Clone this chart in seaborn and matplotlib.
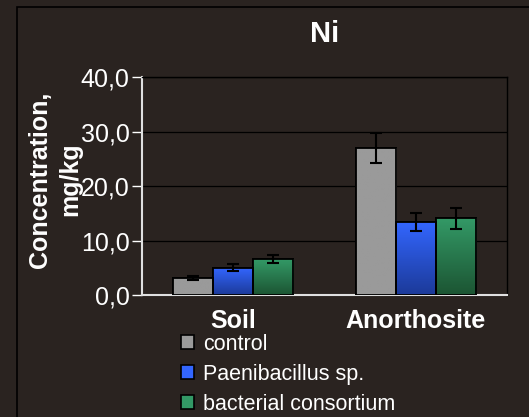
import numpy as np
import pandas as pd
import matplotlib
matplotlib.use('Agg')
import matplotlib.pyplot as plt
import matplotlib.colors as mcolors
from matplotlib.patches import Rectangle, Patch
import seaborn as sns

# data
categories = ['Soil', 'Anorthosite']
treatments = ['control', 'Paenibacillus sp.', 'bacterial consortium']
control = [3.1, 27.0]
paeni = [5.0, 13.4]
consortium = [6.6, 14.1]
control_err = [0.3, 2.7]
paeni_err = [0.6, 1.7]
consortium_err = [0.8, 1.9]
y_ticks = [0, 10, 20, 30, 40]
y_tick_labels = ['0,0', '10,0', '20,0', '30,0', '40,0']

bg = '#2a2320'
top_colors = ['#9a9a9a', '#3366ff', '#339966']
bottom_colors = ['#9a9a9a', '#1c3a99', '#1c5533']

sns.set_style("dark")
plt.rcParams['font.family'] = ['Liberation Sans', 'DejaVu Sans']

df = pd.DataFrame({
    'category': categories * 3,
    'treatment': [t for t in treatments for _ in categories],
    'value': control + paeni + consortium,
    'err': control_err + paeni_err + consortium_err,
})

fig = plt.figure(figsize=(5.29, 4.17), dpi=100, facecolor=bg)
ax = fig.add_axes([142 / 529, 1 - 295 / 417, 365 / 529, 218 / 417])
ax.set_facecolor(bg)

sns.barplot(data=df, x='category', y='value', hue='treatment',
            hue_order=treatments, order=categories,
            palette=top_colors, width=0.66, gap=0, errorbar=None,
            edgecolor='black', linewidth=1.3, saturation=1, ax=ax, zorder=3)

# gradient fill + error bars on each bar
bars = [p for p in ax.patches if p.get_height() > 0]
for i, p in enumerate(bars):
    t = i // len(categories)
    c = i % len(categories)
    x0, w, h = p.get_x(), p.get_width(), p.get_height()
    cmap = mcolors.LinearSegmentedColormap.from_list('g', [bottom_colors[t], top_colors[t]])
    grad = np.linspace(0, 1, 64).reshape(-1, 1)
    im = ax.imshow(grad, extent=(x0, x0 + w, 0, h), origin='lower', aspect='auto',
                   cmap=cmap, zorder=3.5)
    im.set_clip_path(p)
    ax.add_patch(Rectangle((x0, 0), w, h, fill=False, edgecolor='black', lw=1.3, zorder=4))
    errs = [control_err, paeni_err, consortium_err][t]
    ax.errorbar(x0 + w / 2, h, yerr=errs[c], color='black', lw=1.5,
                capsize=4.5, capthick=1.5, zorder=5)

ax.set_xlim(-0.5, 1.5)
ax.set_ylim(0, 40)
ax.set_yticks(y_ticks)
ax.set_yticklabels(y_tick_labels, color='white', fontsize=18)
ax.tick_params(axis='y', length=7, width=1, color='white', pad=2, left=True)
ax.tick_params(axis='x', length=0, pad=10)
for lbl in ax.get_xticklabels():
    lbl.set_color('white')
    lbl.set_fontsize(18)
    lbl.set_fontweight('bold')
ax.grid(axis='y', color='black', lw=0.9, zorder=1)
ax.grid(axis='x', visible=False)

for side in ['top', 'right']:
    ax.spines[side].set_visible(True)
    ax.spines[side].set_color('black')
    ax.spines[side].set_linewidth(1)
for side in ['left', 'bottom']:
    ax.spines[side].set_visible(True)
    ax.spines[side].set_color('#e0e0e0')
    ax.spines[side].set_linewidth(1.5)

ax.set_xlabel('')
ax.set_ylabel('Concentration,\nmg/kg', color='white', fontsize=18,
              fontweight='bold', linespacing=1.3)
ax.yaxis.set_label_coords(-0.165, 0.53)
ax.set_title('Ni', color='white', fontsize=21, fontweight='bold', pad=25)

if ax.get_legend() is not None:
    ax.get_legend().remove()
handles = [Patch(facecolor=c, edgecolor='black', lw=1.2) for c in top_colors]
fig.legend(handles, treatments, loc='upper left', bbox_to_anchor=(172 / 529, 1 - 325 / 417),
           frameon=False, fontsize=15.5, labelcolor='white', handlelength=0.6,
           handleheight=0.6, handletextpad=0.45, labelspacing=0.42, borderaxespad=0)

# outer frame of the slide panel
fig.patches.append(Rectangle((17 / 529, -0.1), 1.2, 1 - 7 / 417 + 0.1, transform=fig.transFigure,
                             fill=False, edgecolor='black', lw=1.2))

fig.savefig('out.png', dpi=100, facecolor=bg)
